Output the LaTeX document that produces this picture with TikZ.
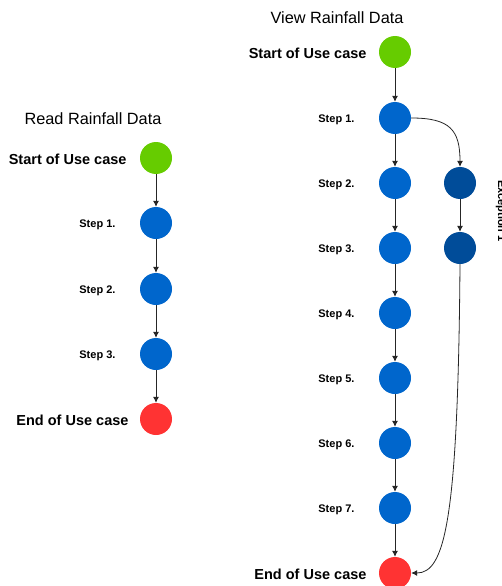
\documentclass[tikz,border=0pt]{standalone}
\usepackage{fontspec}
\setmainfont{Liberation Sans}
\usepackage{tikz}
\usetikzlibrary{arrows.meta}
\definecolor{stepblue}{HTML}{0066CC}
\definecolor{excblue}{HTML}{004C99}
\definecolor{startgreen}{HTML}{66CC00}
\definecolor{endred}{HTML}{FF3333}

\begin{document}
\begin{tikzpicture}[x=1pt, y=-1pt,
    usecase/.style={circle, minimum size=32pt, inner sep=0pt},
    stepnode/.style={usecase, fill=stepblue},
    flow/.style={-{Latex[length=6pt,width=6pt]}, black!85, line width=0.8pt},
    bigtext/.style={font=\fontsize{14.5}{16}\selectfont\bfseries, anchor=east},
    steptext/.style={font=\fontsize{11}{13}\selectfont\bfseries, anchor=east},
    titletext/.style={font=\fontsize{16.3}{18}\selectfont}]
    \useasboundingbox (0,0) rectangle (501,586);

    % Left: Read Rainfall Data
    \node[titletext] (rtitle) at (93,119) {Read Rainfall Data};
    \node[usecase, fill=startgreen] (rs) at (156,158) {};
    \node[bigtext] (rslab) at (130,159) {Start of Use case};
    \foreach \i/\y in {1/223, 2/289, 3/354} {
        \node[stepnode] (r\i) at (156,\y) {};
        \node[steptext] (r\i lab) at (119,\y+1.5) {Step \i.};
    }
    \node[usecase, fill=endred] (re) at (156,419) {};
    \node[bigtext] (relab) at (132,420) {End of Use case};

    \draw[flow] (rs) -- (r1);
    \draw[flow] (r1) -- (r2);
    \draw[flow] (r2) -- (r3);
    \draw[flow] (r3) -- (re);

    % Right: View Rainfall Data
    \node[titletext] (vtitle) at (337,18) {View Rainfall Data};
    \node[usecase, fill=startgreen] (vs) at (395,52) {};
    \node[bigtext] (vslab) at (370,53) {Start of Use case};
    \foreach \i/\y in {1/118, 2/183, 3/248, 4/313, 5/378, 6/443, 7/508} {
        \node[stepnode] (v\i) at (395,\y) {};
        \node[steptext] (v\i lab) at (358,\y+1.5) {Step \i.};
    }
    \node[usecase, fill=endred] (ve) at (395,573) {};
    \node[bigtext] (velab) at (370,574) {End of Use case};

    \draw[flow] (vs) -- (v1);
    \foreach \a/\b in {1/2, 2/3, 3/4, 4/5, 5/6, 6/7} {
        \draw[flow] (v\a) -- (v\b);
    }
    \draw[flow] (v7) -- (ve);

    % Exception 1
    \node[usecase, fill=excblue] (x1) at (460,183) {};
    \node[usecase, fill=excblue] (x2) at (460,248) {};
    \node[steptext, anchor=center, rotate=-90] (xlab) at (501,211) {Exception 1};
    \draw[flow] (v1.east) .. controls (450,118) and (460,130) .. (x1.north);
    \draw[flow] (x1) -- (x2);
    \draw[flow] (x2.south) .. controls (458,520) and (445,573) .. (ve.east);
\end{tikzpicture}
\end{document}
